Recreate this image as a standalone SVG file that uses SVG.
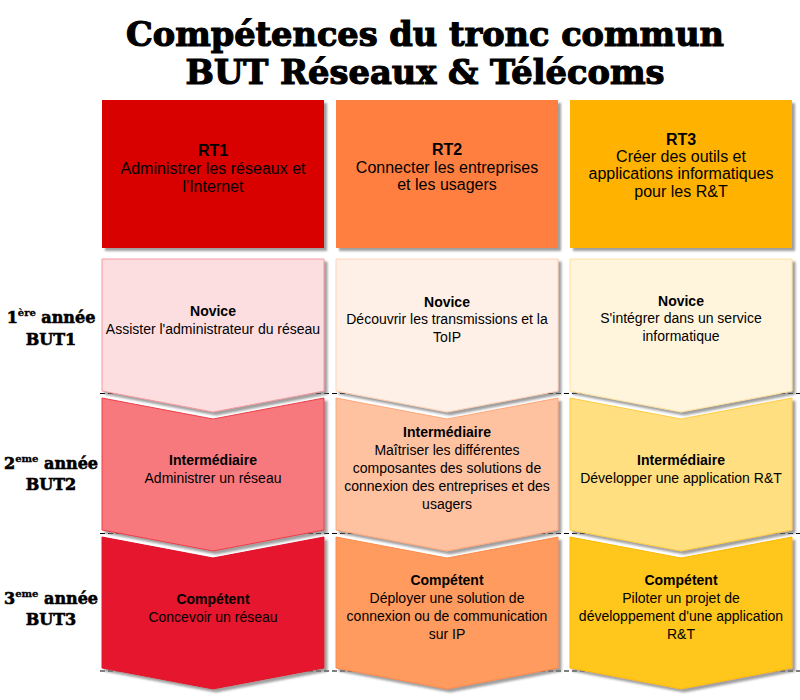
<svg xmlns="http://www.w3.org/2000/svg" width="800" height="700" viewBox="0 0 800 700">
<style>
.title{font-family:"DejaVu Serif",serif;font-weight:bold;font-size:34px;fill:#000;stroke:#000;stroke-width:1.2;text-anchor:middle}
.year{font-family:"DejaVu Serif",serif;font-weight:bold;font-size:16px;fill:#000;stroke:#000;stroke-width:0.6;text-anchor:middle}
.sup{font-size:10px;stroke-width:0.3}
.hd{font-family:"Liberation Sans",Arial,sans-serif;font-size:16px;fill:#000;text-anchor:middle}
.tx{font-family:"Liberation Sans",Arial,sans-serif;font-size:14px;fill:#000;text-anchor:middle}
.b{font-weight:bold}
.sep{stroke:#000;stroke-width:1;stroke-dasharray:5 3;fill:none}
</style>
<defs>
<filter id="sh" x="-10%" y="-10%" width="125%" height="125%">
<feDropShadow dx="3" dy="3" stdDeviation="1.2" flood-color="#777" flood-opacity="0.7"/>
</filter>
</defs>
<rect width="800" height="700" fill="#fff"/>
<g id="title">
<text class="title" x="425" y="46" textLength="598" lengthAdjust="spacingAndGlyphs">Compétences du tronc commun</text>
<text class="title" x="425" y="84" textLength="479" lengthAdjust="spacingAndGlyphs">BUT Réseaux &amp; Télécoms</text>
</g>
<g id="separators">
<line class="sep" x1="100" y1="393.5" x2="800" y2="393.5"/>
<line class="sep" x1="100" y1="533.5" x2="800" y2="533.5"/>
<line class="sep" x1="100" y1="671" x2="800" y2="671"/>
</g>
<g id="year-labels">
<g id="year1"><text class="year" x="51" y="323">1<tspan class="sup" dy="-7">ère</tspan><tspan dy="7"> année</tspan></text><text class="year" x="51" y="345">BUT1</text></g>
<g id="year2"><text class="year" x="51" y="469">2<tspan class="sup" dy="-7">eme</tspan><tspan dy="7"> année</tspan></text><text class="year" x="51" y="490">BUT2</text></g>
<g id="year3"><text class="year" x="51" y="604">3<tspan class="sup" dy="-7">eme</tspan><tspan dy="7"> année</tspan></text><text class="year" x="51" y="625">BUT3</text></g>
</g>
<g id="RT1">
<rect x="102" y="100" width="222" height="148" fill="#D90000" filter="url(#sh)"/>
<text class="hd" x="213"><tspan class="b" x="213" y="156">RT1</tspan><tspan x="213" y="174">Administrer les réseaux et</tspan><tspan x="213" y="192">l'Internet</tspan></text>
</g>
<g id="RT2">
<rect x="336" y="100" width="222" height="148" fill="#FF7F3F" filter="url(#sh)"/>
<text class="hd" x="447"><tspan class="b" x="447" y="155">RT2</tspan><tspan x="447" y="173">Connecter les entreprises</tspan><tspan x="447" y="190">et les usagers</tspan></text>
</g>
<g id="RT3">
<rect x="570" y="100" width="222" height="148" fill="#FFB300" filter="url(#sh)"/>
<text class="hd" x="681"><tspan class="b" x="681" y="145">RT3</tspan><tspan x="681" y="162">Créer des outils et</tspan><tspan x="681" y="179">applications informatiques</tspan><tspan x="681" y="197">pour les R&amp;T</tspan></text>
</g>
<g id="RT1-novice">
<path d="M102,259 L324,259 L324,391 L213,412 L102,391 Z" fill="#FDDEE0" stroke="#F39AA0" stroke-width="1" filter="url(#sh)"/>
<text class="tx"><tspan class="b" x="213" y="316">Novice</tspan><tspan x="213" y="334">Assister l'administrateur du réseau</tspan></text>
</g>
<g id="RT1-intermediaire">
<path d="M102,398 L213,419 L324,398 L324,530 L213,551 L102,530 Z" fill="#F7797D" stroke="#EE3D47" stroke-width="1" filter="url(#sh)"/>
<text class="tx"><tspan class="b" x="213" y="465">Intermédiaire</tspan><tspan x="213" y="483">Administrer un réseau</tspan></text>
</g>
<g id="RT1-competent">
<path d="M102,537 L213,558 L324,537 L324,668 L213,689 L102,668 Z" fill="#E5142D" stroke="#E0102A" stroke-width="1" filter="url(#sh)"/>
<text class="tx"><tspan class="b" x="213" y="604">Compétent</tspan><tspan x="213" y="622">Concevoir un réseau</tspan></text>
</g>
<g id="RT2-novice">
<path d="M336,259 L558,259 L558,391 L447,412 L336,391 Z" fill="#FEF0E6" stroke="#FFD2B8" stroke-width="1" filter="url(#sh)"/>
<text class="tx"><tspan class="b" x="447" y="307">Novice</tspan><tspan x="447" y="324">Découvrir les transmissions et la</tspan><tspan x="447" y="342">ToIP</tspan></text>
</g>
<g id="RT2-intermediaire">
<path d="M336,398 L447,419 L558,398 L558,530 L447,551 L336,530 Z" fill="#FFC2A0" stroke="#FFA778" stroke-width="1" filter="url(#sh)"/>
<text class="tx"><tspan class="b" x="447" y="437">Intermédiaire</tspan><tspan x="447" y="455">Maîtriser les différentes</tspan><tspan x="447" y="473">composantes des solutions de</tspan><tspan x="447" y="491">connexion des entreprises et des</tspan><tspan x="447" y="509">usagers</tspan></text>
</g>
<g id="RT2-competent">
<path d="M336,537 L447,558 L558,537 L558,668 L447,689 L336,668 Z" fill="#FF9B5E" stroke="#FF8A48" stroke-width="1" filter="url(#sh)"/>
<text class="tx"><tspan class="b" x="447" y="585">Compétent</tspan><tspan x="447" y="603">Déployer une solution de</tspan><tspan x="447" y="621">connexion ou de communication</tspan><tspan x="447" y="639">sur IP</tspan></text>
</g>
<g id="RT3-novice">
<path d="M570,259 L792,259 L792,391 L681,412 L570,391 Z" fill="#FFF5DC" stroke="#FFE2A0" stroke-width="1" filter="url(#sh)"/>
<text class="tx"><tspan class="b" x="681" y="306">Novice</tspan><tspan x="681" y="323">S'intégrer dans un service</tspan><tspan x="681" y="341">informatique</tspan></text>
</g>
<g id="RT3-intermediaire">
<path d="M570,398 L681,419 L792,398 L792,530 L681,551 L570,530 Z" fill="#FFDF80" stroke="#FFCC40" stroke-width="1" filter="url(#sh)"/>
<text class="tx"><tspan class="b" x="681" y="465">Intermédiaire</tspan><tspan x="681" y="483">Développer une application R&amp;T</tspan></text>
</g>
<g id="RT3-competent">
<path d="M570,537 L681,558 L792,537 L792,668 L681,689 L570,668 Z" fill="#FFC61A" stroke="#FFB800" stroke-width="1" filter="url(#sh)"/>
<text class="tx"><tspan class="b" x="681" y="585">Compétent</tspan><tspan x="681" y="603">Piloter un projet de</tspan><tspan x="681" y="621">développement d'une application</tspan><tspan x="681" y="639">R&amp;T</tspan></text>
</g>
</svg>
